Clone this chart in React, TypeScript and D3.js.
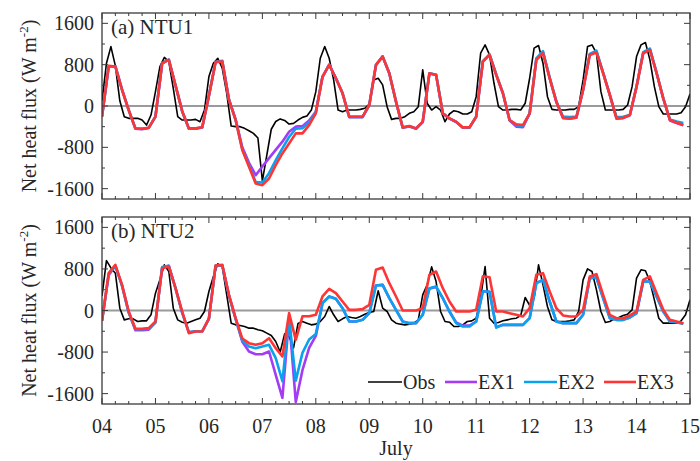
import React from "react";
import * as d3 from "d3";

// ---------- data ----------
const dayLabels = ["04", "05", "06", "07", "08", "09", "10", "11", "12", "13", "14", "15"];
const dayValues = [4, 5, 6, 7, 8, 9, 10, 11, 12, 13, 14, 15];
const yTickValues = [-1600, -800, 0, 800, 1600];
const xAxisTitle = "July";
const seriesNames = ["Obs", "EX1", "EX2", "EX3"];
const seriesColors = ["#000000", "#a23cf5", "#0aa2ee", "#ff3535"];
const panelTitles = ["(a) NTU1", "(b) NTU2"];

// Model output every 3 h starting 4 July 00h; observations every 2 h.
const modelStepDays = 1 / 8;
const obsStepDays = 1 / 12;

const ntu1Obs = [
  100, 828, 1150, 776, 100, -207, -239, -239, -239, -272, -369, -175,
  278, 763, 940, 860, 340, -207, -272, -272, -272, -259, -304, -78,
  569, 828, 924, 730, 246, -388, -400, -400, -433, -478, -530, -620,
  -1450, -950, -450, -300, -250, -280, -350, -336, -272, -220, -194, -78,
  278, 924, 1150, 924, 504, -78, -110, -78, -78, -78, -65, -45,
  39, 504, 537, 408, -13, -259, -239, -239, -207, -142, -110, -13,
  700, 52, -78, -13, -78, -304, -155, -91, -110, -155, -155, -110,
  181, 1021, 1183, 989, 440, -13, -78, -78, -65, -65, -78, 52,
  537, 1119, 1170, 828, 181, -65, -78, -78, -78, -65, -65, -13,
  504, 1151, 1183, 1021, 278, -78, -78, -78, -78, -65, 19, 375,
  957, 1183, 1229, 892, 375, -13, -155, -155, -155, -155, -129, -13,
  230,
];
const ntu1EX1 = [
  -207, 760, 770, 320, -80, -440, -450, -425,
  -207, 820, 900, 400, -100, -440, -440, -415,
  200, 850, 875, 130, -260, -800, -1100, -1340,
  -1170, -1010, -850, -690, -500, -400, -390, -280,
  -110, 560, 800, 540, 250, -215, -215, -215,
  15, 790, 960, 630, 84, -420, -395, -440,
  -310, 630, 605, -142, -245, -310, -420, -420,
  -207, 860, 995, 605, 246, -280, -400, -410,
  -150, 900, 1040, 545, 80, -235, -245, -225,
  310, 995, 1050, 640, 213, -245, -235, -180,
  375, 1030, 1100, 640, 149, -280, -330, -375,
];
const ntu1EX2 = [
  -207, 770, 765, 312, -80, -436, -442, -422,
  -207, 828, 895, 400, -100, -436, -436, -412,
  200, 850, 865, 118, -270, -840, -1150, -1470,
  -1480, -1300, -1050, -820, -600, -440, -430, -320,
  -120, 565, 798, 537, 246, -210, -210, -210,
  17, 795, 960, 634, 84, -418, -390, -436,
  -306, 634, 604, -142, -240, -306, -416, -416,
  -207, 870, 1000, 610, 250, -272, -370, -385,
  -145, 920, 1060, 545, 85, -205, -215, -205,
  310, 1010, 1070, 640, 213, -215, -210, -175,
  375, 1040, 1110, 640, 149, -260, -300, -330,
];
const ntu1EX3 = [
  -207, 776, 763, 310, -80, -433, -440, -420,
  -207, 828, 892, 400, -100, -433, -433, -410,
  200, 850, 860, 116, -272, -853, -1177, -1500,
  -1533, -1403, -1145, -918, -724, -530, -530, -369,
  -142, 569, 795, 537, 246, -207, -207, -207,
  19, 795, 957, 634, 84, -414, -388, -433,
  -304, 634, 602, -142, -239, -304, -414, -414,
  -207, 860, 989, 601, 246, -272, -356, -369,
  -142, 892, 1021, 536, 78, -227, -239, -220,
  310, 989, 1034, 634, 213, -239, -227, -175,
  375, 1021, 1086, 634, 149, -272, -323, -369,
];

const ntu2Obs = [
  280, 960, 820, 719, 45, -180, -160, -160, -212, -199, -199, -83,
  334, 590, 879, 751, 45, -180, -225, -244, -212, -180, -148, -19,
  366, 655, 898, 847, 302, -244, -276, -289, -308, -340, -340, -372,
  -391, -436, -481, -597, -800, -450, -500, -720, -250, -212, -244, -276,
  -263, -212, -116, 77, -83, -212, -160, -116, -135, -148, -116, -71,
  -38, -19, 380, 45, -19, -180, -244, -263, -276, -263, -244, -180,
  300, 494, 840, 558, -19, -212, -225, -308, -308, -276, -212, -199,
  -148, 237, 847, -148, -244, -231, -199, -180, -160, -148, -96, 250,
  100, 237, 879, 494, 77, -180, -212, -212, -212, -199, -180, -19,
  590, 802, 751, 398, -19, -231, -212, -160, -135, -96, -71, 13,
  623, 783, 764, 558, 205, -148, -244, -244, -244, -244, -199, -83,
  205,
];
const ntu2EX1 = [
  -200, 680, 860, 480, -40, -380, -380, -370,
  -230, 830, 860, 430, -40, -420, -400, -400,
  -160, 860, 870, 290, -160, -600, -789, -841,
  -841, -789, -1238, -1681, -141, -1760, -1150, -720,
  -490, 141, 270, 225, 45, -212, -212, -180,
  -51, 481, 494, 237, 13, -212, -244, -244,
  -83, 420, 455, 237, -19, -230, -290, -290,
  -212, 372, 360, -320, -276, -276, -276, -276,
  -148, 526, 590, 173, -212, -244, -244, -244,
  -83, 623, 635, 237, -148, -180, -180, -135,
  -51, 558, 558, 270, -19, -212, -225, -257,
];
const ntu2EX2 = [
  -200, 700, 860, 480, -40, -360, -360, -350,
  -230, 830, 860, 430, -40, -420, -400, -400,
  -160, 860, 870, 290, -160, -580, -693, -725,
  -693, -661, -918, -1361, -141, -1350, -815, -558,
  -450, 141, 270, 225, 45, -212, -212, -180,
  -51, 481, 494, 237, 13, -212, -244, -244,
  -83, 430, 462, 237, -19, -244, -308, -308,
  -212, 372, 360, -330, -276, -276, -276, -276,
  -148, 526, 590, 173, -212, -244, -244, -244,
  -83, 623, 635, 237, -148, -180, -180, -135,
  -51, 558, 558, 270, -19, -212, -225, -257,
];
const ntu2EX3 = [
  -200, 719, 879, 494, -19, -353, -353, -340,
  -212, 815, 847, 430, -19, -436, -404, -404,
  -150, 866, 879, 302, -148, -540, -629, -661,
  -629, -533, -725, -885, -51, -565, -112, -112,
  -83, 270, 417, 334, 173, 13, 13, 26,
  109, 783, 828, 526, 270, 0, 0, 0,
  45, 687, 751, 430, 173, -19, -19, -19,
  13, 660, 640, -19, -19, -51, -83, -116,
  45, 687, 719, 366, 45, -96, -116, -116,
  13, 655, 700, 302, -83, -148, -148, -96,
  -19, 590, 655, 334, 13, -180, -212, -244,
];

const panelSeries = [
  [ntu1Obs, ntu1EX1, ntu1EX2, ntu1EX3],
  [ntu2Obs, ntu2EX1, ntu2EX2, ntu2EX3],
];

// ---------- layout ----------
const W = 700;
const H = 461;
const left = 102;
const right = 690;
const panelBoxes = [
  { top: 13, bottom: 199 },
  { top: 217, bottom: 404 },
];
const SERIF = "Liberation Serif";
const frameColor = "#3a3a3a";
const textColor = "#262626";

const x = d3.scaleLinear().domain([4, 15]).range([left, right]);

function T(props: any) {
  const { children, style, ...rest } = props;
  return (
    <text fontFamily={SERIF} style={{ fontFamily: `"${SERIF}"`, ...(style || {}) }} fill={textColor} {...rest}>
      {children}
    </text>
  );
}

function Panel({ idx }: { idx: number }) {
  const box = panelBoxes[idx];
  const y = d3.scaleLinear().domain([-1800, 1800]).range([box.bottom, box.top]);
  const series = panelSeries[idx];
  const mkLine = (step: number) =>
    d3
      .line<number>()
      .x((_, i) => x(4 + i * step))
      .y((d) => y(d));

  const minorX = d3.range(4, 15.0001, 0.25).filter((v) => Math.abs(v - Math.round(v)) > 1e-6);
  const minorY = d3.range(-1600, 1601, 400).filter((v) => v % 800 !== 0);
  const clipId = `clip${idx}`;
  const midY = (box.top + box.bottom) / 2;

  return (
    <g>
      <defs>
        <clipPath id={clipId}>
          <rect x={left} y={box.top} width={right - left} height={box.bottom - box.top} />
        </clipPath>
      </defs>
      <line x1={left} x2={right} y1={y(0)} y2={y(0)} stroke="#9a9a9a" strokeWidth={1.8} />
      <g clipPath={`url(#${clipId})`}>
        {series.map((s, si) => (
          <path
            key={si}
            d={mkLine(si === 0 ? obsStepDays : modelStepDays)(s) || ""}
            fill="none"
            stroke={seriesColors[si]}
            strokeWidth={si === 0 ? 1.6 : 2.6}
            strokeLinejoin="round"
          />
        ))}
      </g>
      <rect
        x={left}
        y={box.top}
        width={right - left}
        height={box.bottom - box.top}
        fill="none"
        stroke={frameColor}
        strokeWidth={1.3}
      />
      {dayValues.map((d) => (
        <g key={`xm${d}`} stroke={frameColor} strokeWidth={1}>
          <line x1={x(d)} x2={x(d)} y1={box.bottom} y2={box.bottom - 6} />
          <line x1={x(d)} x2={x(d)} y1={box.top} y2={box.top + 6} />
        </g>
      ))}
      {minorX.map((d) => (
        <g key={`xn${d}`} stroke={frameColor} strokeWidth={1}>
          <line x1={x(d)} x2={x(d)} y1={box.bottom} y2={box.bottom - 3} />
          <line x1={x(d)} x2={x(d)} y1={box.top} y2={box.top + 3} />
        </g>
      ))}
      {yTickValues.map((v) => (
        <g key={`ym${v}`}>
          <line x1={left} x2={left + 6} y1={y(v)} y2={y(v)} stroke={frameColor} />
          <line x1={right} x2={right - 6} y1={y(v)} y2={y(v)} stroke={frameColor} />
          <T x={left - 8} y={y(v) + 7} textAnchor="end" fontSize={20}>
            {String(v)}
          </T>
        </g>
      ))}
      {minorY.map((v) => (
        <g key={`yn${v}`} stroke={frameColor}>
          <line x1={left} x2={left + 3} y1={y(v)} y2={y(v)} />
          <line x1={right} x2={right - 3} y1={y(v)} y2={y(v)} />
        </g>
      ))}
      <T x={111} y={box.top + 21} fontSize={21}>
        {panelTitles[idx]}
      </T>
      <T transform={`translate(36,${midY}) rotate(-90)`} textAnchor="middle" fontSize={20}>
        Net heat flux (W m
        <tspan fontSize={13} dy={-8}>
          -2
        </tspan>
        <tspan dy={8}>)</tspan>
      </T>
      {idx === 1 &&
        dayValues.map((d, i) => (
          <T key={`xl${d}`} x={x(d)} y={box.bottom + 29} textAnchor="middle" fontSize={20}>
            {dayLabels[i]}
          </T>
        ))}
    </g>
  );
}

function Legend() {
  const items = [
    { x1: 368, x2: 402, tx: 403 },
    { x1: 445, x2: 477, tx: 478 },
    { x1: 524, x2: 557, tx: 558 },
    { x1: 604, x2: 636, tx: 637 },
  ];
  const ly = 382;
  return (
    <g>
      {items.map((it, i) => (
        <g key={i}>
          <line
            x1={it.x1}
            x2={it.x2}
            y1={ly}
            y2={ly}
            stroke={seriesColors[i]}
            strokeWidth={i === 0 ? 1.6 : 2.6}
          />
          <T x={it.tx} y={ly + 7} fontSize={20}>
            {seriesNames[i]}
          </T>
        </g>
      ))}
    </g>
  );
}

export default function App() {
  return (
    <svg
      width={W}
      height={H}
      viewBox={`0 0 ${W} ${H}`}
      fontFamily={SERIF}
      style={{ position: "absolute", left: 0, top: 0, background: "#fff", fontFamily: `"${SERIF}"` }}
    >
      <rect x={0} y={0} width={W} height={H} fill="#fff" />
      <Panel idx={0} />
      <Panel idx={1} />
      <Legend />
      <T x={(left + right) / 2} y={455} textAnchor="middle" fontSize={20}>
        {xAxisTitle}
      </T>
    </svg>
  );
}
